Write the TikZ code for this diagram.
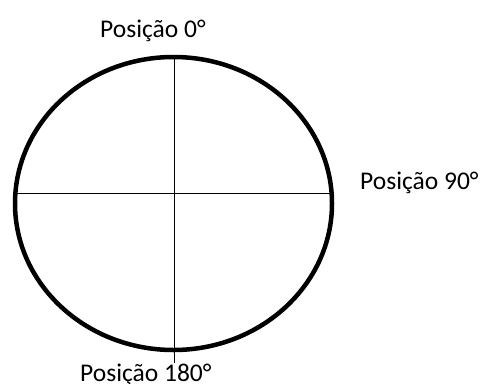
\documentclass[tikz,border=0pt]{standalone}
\usepackage{fontspec}
\setmainfont{Carlito}
\begin{document}
\begin{tikzpicture}[x=1pt,y=-1pt,
  lbl/.style={anchor=base west,inner sep=0pt,font=\fontsize{25.5}{30}\selectfont},
  rim/.style={line width=4.5pt},
  axis/.style={line width=1pt}]
\useasboundingbox[fill=white] (0,0) rectangle (484,383);
\draw[rim] (173.5,203.5) ellipse [x radius=158.5, y radius=146.5];
\coordinate (top) at (174,57);
\coordinate (bot) at (174,363);
\coordinate (lft) at (15.4,193);
\coordinate (rgt) at (331.6,193);
\draw[axis] (top) -- (bot);
\draw[axis] (lft) -- (rgt);
\node[lbl] (p0) at (100,37.7) {Posição 0°};
\node[lbl] (p90) at (360,189) {Posição 90°};
\node[lbl] (p180) at (80,381) {Posição 180°};
\end{tikzpicture}
\end{document}
